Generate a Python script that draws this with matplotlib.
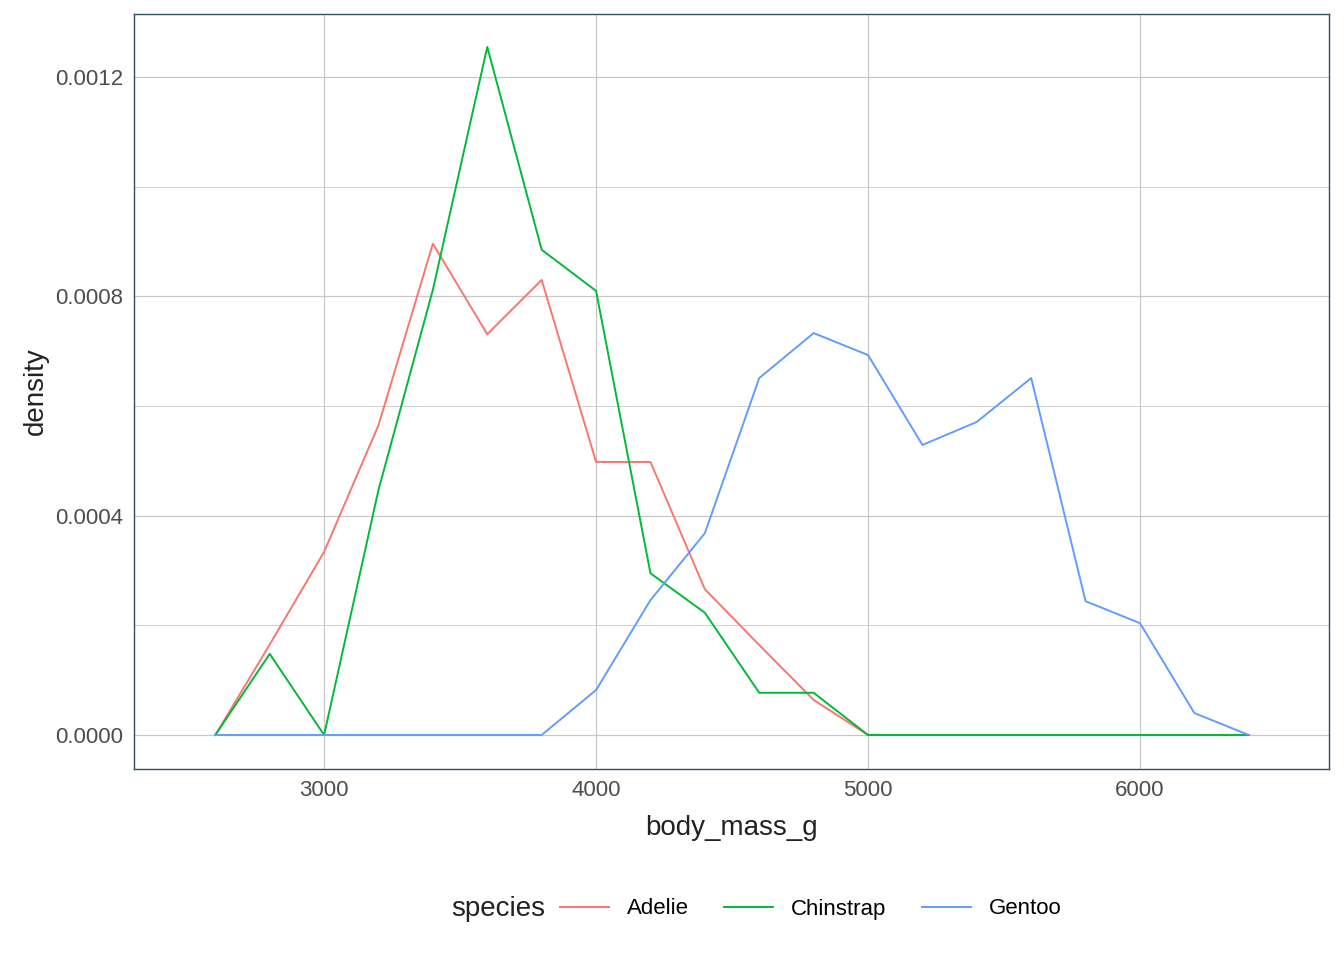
import matplotlib.pyplot as plt

plt.rcParams["font.family"] = ["Liberation Sans", "DejaVu Sans"]

mass = [2600, 2800, 3000, 3200, 3400, 3600, 3800, 4000, 4200, 4400, 4600, 4800, 5000,
        5200, 5400, 5600, 5800, 6000, 6200, 6400]
adelie = [0, 0.000165, 0.000334, 0.000565, 0.000896, 0.000731, 0.00083, 0.000498, 0.000498,
          0.000266, 0.000164, 0.000064, 0, 0, 0, 0, 0, 0, 0, 0]
chinstrap = [0, 0.000148, 0, 0.000447, 0.000812, 0.001255, 0.000885, 0.00081, 0.000295,
             0.000223, 0.000077, 0.000077, 0, 0, 0, 0, 0, 0, 0, 0]
gentoo = [0, 0, 0, 0, 0, 0, 0, 0.000082, 0.000246, 0.000368, 0.000651, 0.000733, 0.000693,
          0.000529, 0.000571, 0.000651, 0.000244, 0.000204, 0.00004, 0]
series = {"Adelie": (adelie, "#F8766D"), "Chinstrap": (chinstrap, "#00BA38"),
          "Gentoo": (gentoo, "#619CFF")}

fig = plt.figure(figsize=(13.44, 9.6), dpi=100)
ax = fig.add_axes([134 / 1344, 1 - 769 / 960, 1195 / 1344, 755 / 960])
for name, (vals, col) in series.items():
    ax.plot(mass, vals, color=col, lw=1.4, label=name)

ax.set_xlim(2301, 6695)
ax.set_ylim(-6.2e-5, 0.001315)
ax.set_xticks([3000, 4000, 5000, 6000])
ax.set_yticks([0, 0.0004, 0.0008, 0.0012])
ax.set_yticks([0.0002, 0.0006, 0.001], minor=True)
ax.set_yticklabels(["0.0000", "0.0004", "0.0008", "0.0012"])
ax.grid(True, which="major", color="#C8C8C8", lw=0.9)
ax.grid(True, which="minor", axis="y", color="#D0D0D0", lw=0.7)
ax.set_axisbelow(True)
ax.tick_params(which="both", length=0, labelsize=16, colors="#4D4D4D", pad=8)
for s in ax.spines.values():
    s.set_color("#2F4F5F")
    s.set_linewidth(1.0)
ax.set_xlabel("body_mass_g", fontsize=20, color="#222222", labelpad=10)
ax.set_ylabel("density", fontsize=20, color="#222222")

fig.text(451 / 1344, 1 - 909 / 960, "species", fontsize=20, color="#222222",
         ha="left", va="center")
ax.legend(loc="center left", bbox_to_anchor=(560 / 1344, 1 - 909 / 960),
          bbox_transform=fig.transFigure, ncol=3, frameon=False, fontsize=16,
          handlelength=2.2, columnspacing=1.6, borderaxespad=0, borderpad=0)
fig.savefig("out.png", dpi=100)
